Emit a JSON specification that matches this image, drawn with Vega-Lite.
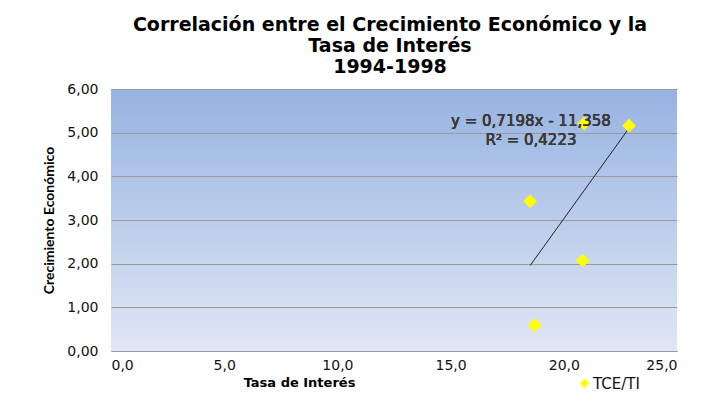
{
  "$schema": "https://vega.github.io/schema/vega-lite/v6.json",
  "width": 566,
  "height": 262,
  "autosize": {"type": "none"},
  "padding": {"left": 111, "top": 89, "right": 27, "bottom": 53},
  "background": "white",
  "view": {
    "fill": {"gradient": "linear", "x1": 0, "y1": 0, "x2": 0, "y2": 1,
      "stops": [{"offset": 0, "color": "#97b3e2"}, {"offset": 1, "color": "#e0e7f4"}]},
    "stroke": null
  },
  "title": {
    "text": ["Correlación entre el Crecimiento Económico y la", "Tasa de Interés", "1994-1998"],
    "font": "DejaVu Sans",
    "fontSize": 19,
    "fontWeight": "bold",
    "color": "#000000",
    "lineHeight": 21,
    "anchor": "middle",
    "frame": "group",
    "offset": 5,
    "dx": -4
  },
  "config": {
    "locale": {"number": {"decimal": ",", "thousands": ".", "grouping": [3], "currency": ["", " €"]}},
    "axis": {
      "labelFont": "DejaVu Sans",
      "labelFontSize": 14,
      "labelColor": "#111111",
      "titleColor": "#000000",
      "ticks": false,
      "gridColor": "#9a9a9a",
      "gridOpacity": 1,
      "gridWidth": 1
    }
  },
  "data": {
    "values": [
      {"tasa": 20.9, "crec": 5.21, "serie": "TCE/TI"},
      {"tasa": 22.88, "crec": 5.16, "serie": "TCE/TI"},
      {"tasa": 18.51, "crec": 3.43, "serie": "TCE/TI"},
      {"tasa": 20.83, "crec": 2.07, "serie": "TCE/TI"},
      {"tasa": 18.71, "crec": 0.59, "serie": "TCE/TI"}
    ]
  },
  "layer": [
    {
      "transform": [{"regression": "crec", "on": "tasa"}],
      "mark": {"type": "line", "color": "#222222", "strokeWidth": 1},
      "encoding": {
        "x": {"field": "tasa", "type": "quantitative"},
        "y": {"field": "crec", "type": "quantitative"}
      }
    },
    {
      "mark": {"type": "point", "shape": "diamond", "filled": true, "size": 190, "opacity": 1},
      "encoding": {
        "x": {
          "field": "tasa", "type": "quantitative",
          "scale": {"domain": [0, 25], "nice": false, "zero": true},
          "axis": {
            "title": "Tasa de Interés",
            "titleFont": "DejaVu Sans", "titleFontSize": 13, "titleFontWeight": "bold",
            "titlePadding": 4, "titleX": 188, "titleAlign": "center",
            "format": ".1f", "values": [0, 5, 10, 15, 20, 25],
            "grid": false, "domainColor": "#9a9a9a", "labelPadding": 7
          }
        },
        "y": {
          "field": "crec", "type": "quantitative",
          "scale": {"domain": [0, 6], "nice": false},
          "axis": {
            "title": "Crecimiento Económico",
            "titleFont": "Lato", "titleFontSize": 14, "titleFontWeight": "bold",
            "titlePadding": 10,
            "format": ".2f", "values": [0, 1, 2, 3, 4, 5, 6],
            "grid": true, "domain": false, "labelPadding": 13
          }
        },
        "color": {
          "field": "serie", "type": "nominal",
          "scale": {"range": ["#ffff00"]},
          "legend": {
            "title": null, "orient": "none", "legendX": 466, "legendY": 287,
            "symbolType": "diamond", "symbolSize": 90, "padding": 0,
            "labelFont": "DejaVu Sans", "labelFontSize": 15, "labelColor": "#111111",
            "labelOffset": 1
          }
        }
      }
    },
    {
      "mark": {"type": "text", "font": "DejaVu Sans", "fontSize": 15, "fontWeight": "normal", "color": "#3a3a3a", "lineHeight": 19, "align": "center", "baseline": "middle"},
      "encoding": {
        "x": {"datum": 18.55},
        "y": {"datum": 5.27},
        "text": {"value": ["y = 0,7198x - 11,358", "R² = 0,4223"]}
      }
    }
  ]
}
